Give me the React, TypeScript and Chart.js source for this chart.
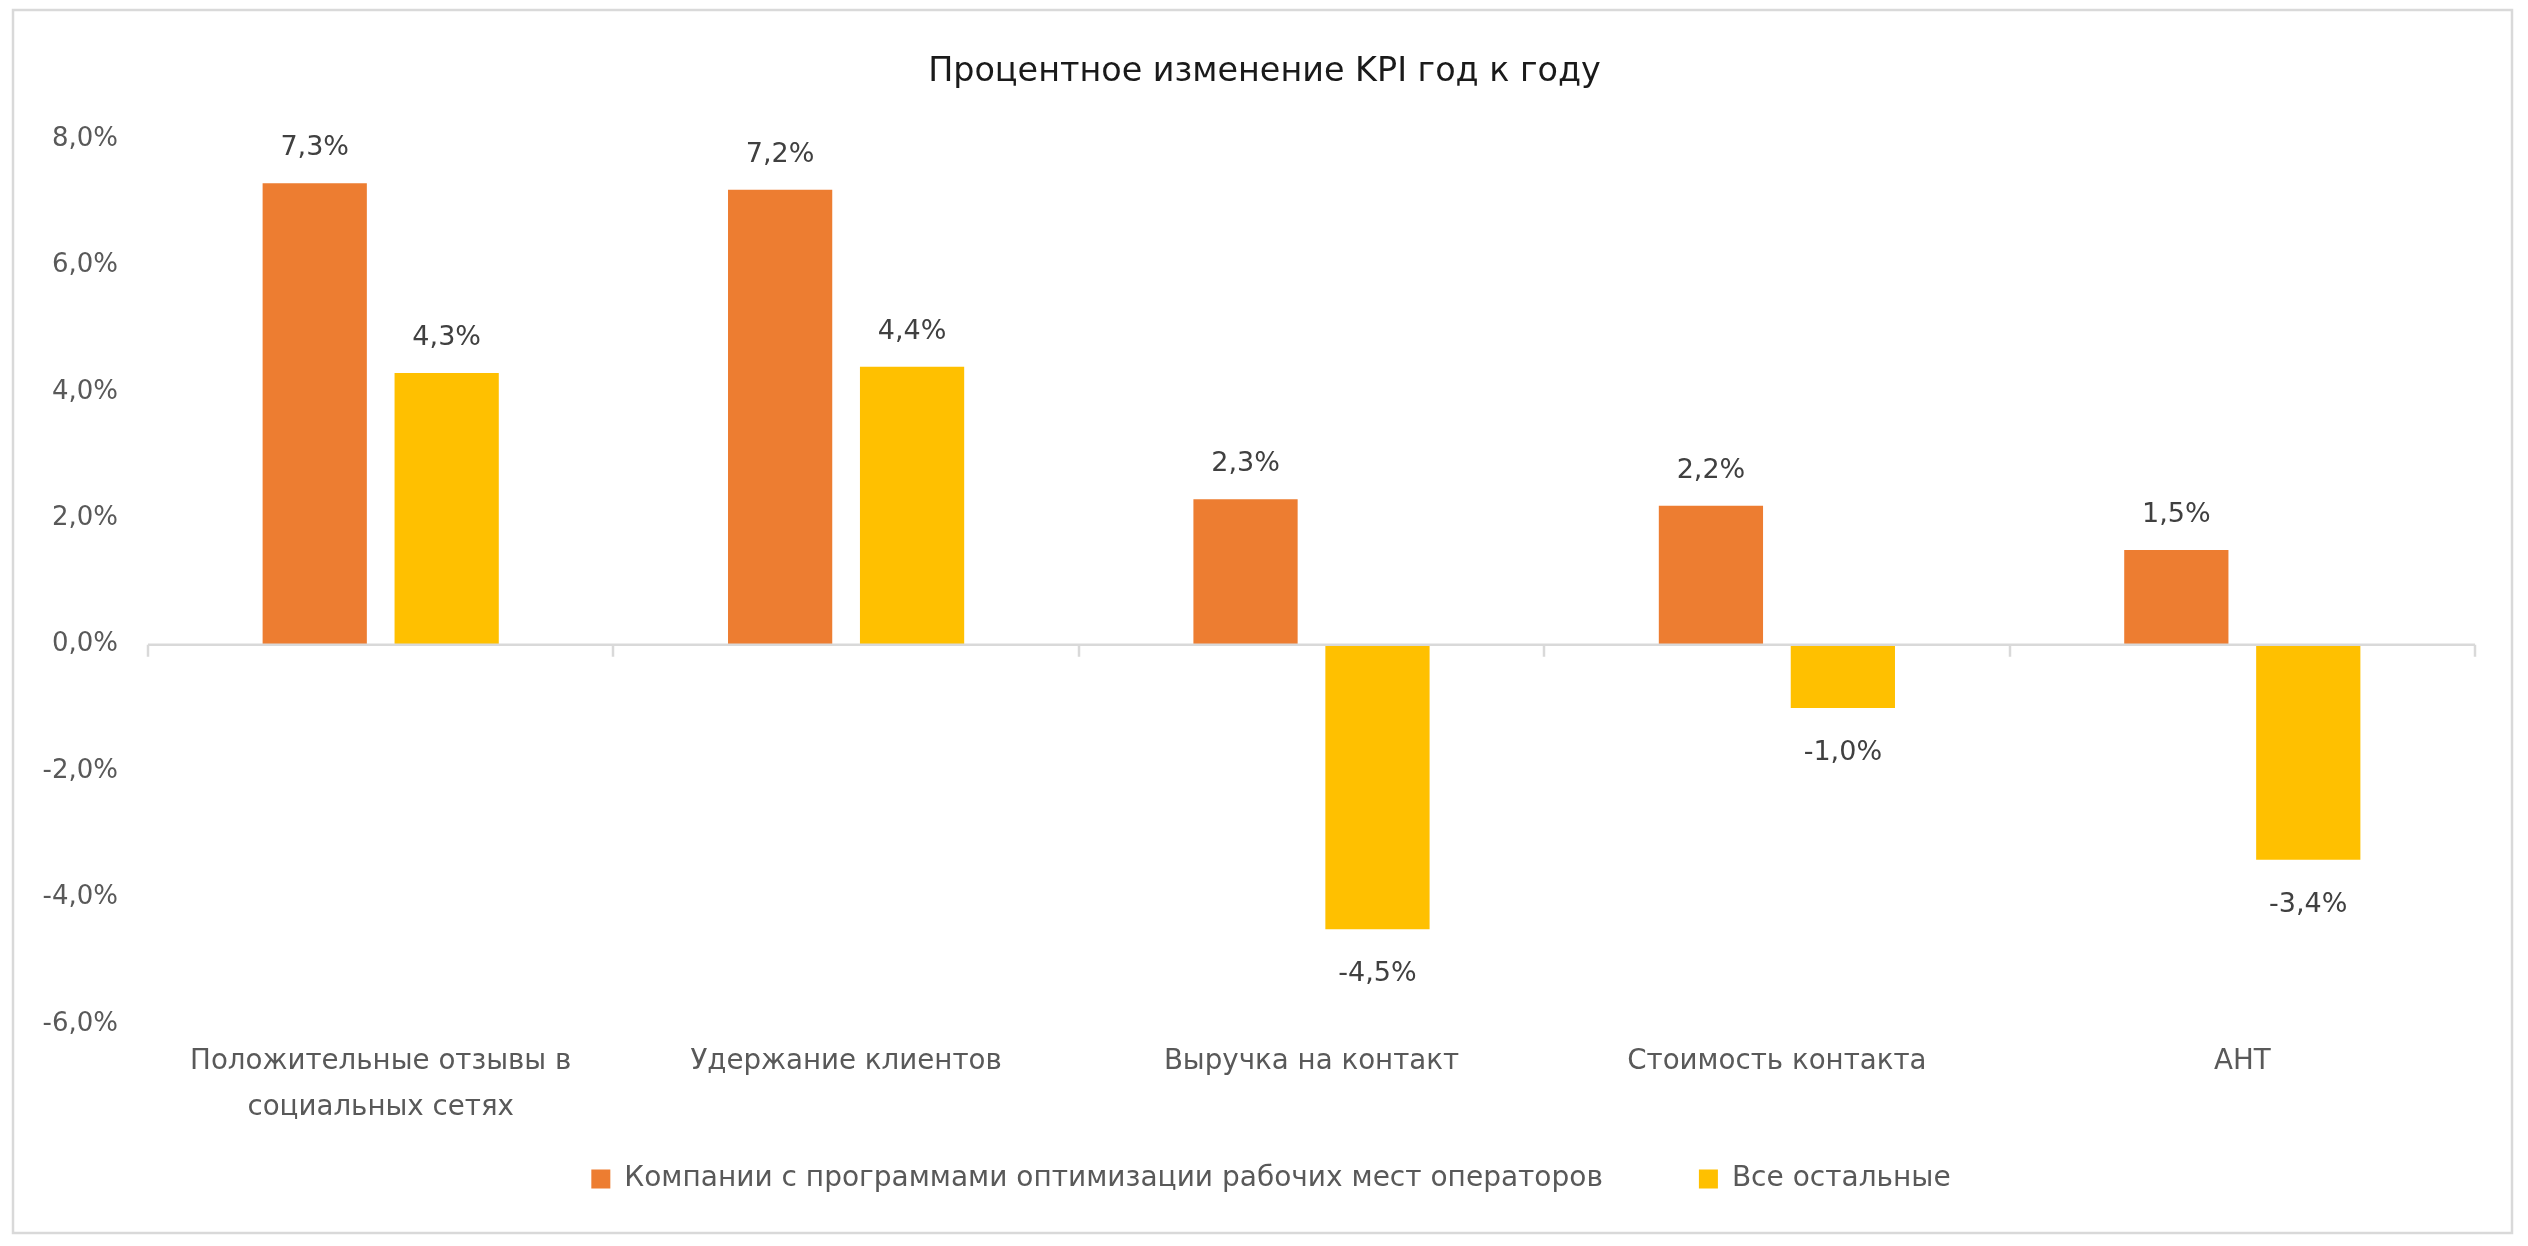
import React, { useEffect, useRef } from "react";
import { Chart, registerables } from "chart.js";

Chart.register(...registerables);

const chartTitle = "Процентное изменение KPI год к году";
const categories: (string | string[])[] = [
  ["Положительные отзывы в", "социальных сетях"],
  "Удержание клиентов",
  "Выручка на контакт",
  "Стоимость контакта",
  "AHT",
];
const seriesNames = [
  "Компании с программами оптимизации рабочих мест операторов",
  "Все остальные",
];
const withProgram = [7.3, 7.2, 2.3, 2.2, 1.5];
const allOthers = [4.3, 4.4, -4.5, -1.0, -3.4];
const yMin = -6;
const yMax = 8;
const yStep = 2;

const FONT = "'DejaVu Sans', 'Open Sans', sans-serif";
const fmt = (v: number) => v.toFixed(1).replace(".", ",") + "%";

const W = 2528;
const H = 1246;
const LEGEND_PAD = 96;
const PAD_BOTTOM = 43;
const AREA_BOTTOM = 1024;

const framePlugin = {
  id: "frame",
  beforeDraw(chart: any) {
    const ctx = chart.ctx;
    ctx.save();
    ctx.fillStyle = "#ffffff";
    ctx.fillRect(0, 0, chart.width, chart.height);
    ctx.strokeStyle = "#d9d9d9";
    ctx.lineWidth = 2.5;
    ctx.strokeRect(13, 10, 2499, 1223);
    ctx.restore();
  },
};

const layoutTweak = {
  id: "layoutTweak",
  afterLayout(chart: any) {
    const lg = chart.legend;
    if (lg && lg.lineWidths) {
      const lw = lg.lineWidths[0];
      const start = (lg.left + LEGEND_PAD + lg.right - lw) / 2;
      const desired = 1271 - (lw - LEGEND_PAD) / 2;
      const dx = desired - start;
      lg.left += dx;
      lg.right += dx;
    }
    const tb = chart.titleBlock;
    if (tb) {
      tb.left += 20;
      tb.right += 20;
    }
    const xs = chart.scales.x;
    if (xs) {
      // let the two-line category labels extend past the shortened axis box
      xs.bottom = xs.top + 130;
    }
  },
};

const zeroLinePlugin = {
  id: "zeroLine",
  afterDatasetsDraw(chart: any) {
    const ctx = chart.ctx;
    const xs = chart.scales.x;
    const ys = chart.scales.y;
    const y0 = ys.getPixelForValue(0);
    ctx.save();
    ctx.strokeStyle = "#d9d9d9";
    ctx.lineWidth = 2.5;
    ctx.beginPath();
    ctx.moveTo(chart.chartArea.left, y0);
    ctx.lineTo(chart.chartArea.right, y0);
    for (let i = 0; i <= categories.length; i++) {
      const x = Math.round(xs.getPixelForValue(i - 0.5));
      ctx.moveTo(x, y0);
      ctx.lineTo(x, y0 + 12);
    }
    ctx.stroke();
    ctx.restore();
  },
};

const dataLabelPlugin = {
  id: "dataLabels",
  afterDatasetsDraw(chart: any) {
    const ctx = chart.ctx;
    ctx.save();
    ctx.font = `27px ${FONT}`;
    ctx.fillStyle = "#404040";
    ctx.textAlign = "center";
    ctx.textBaseline = "middle";
    chart.data.datasets.forEach((ds: any, di: number) => {
      const meta = chart.getDatasetMeta(di);
      meta.data.forEach((el: any, i: number) => {
        const v = ds.data[i] as number;
        const y = v >= 0 ? el.y - 35 : el.y + 45;
        ctx.fillText(fmt(v), el.x, y);
      });
    });
    ctx.restore();
  },
};

export default function App() {
  const ref = useRef<HTMLCanvasElement | null>(null);

  useEffect(() => {
    if (!ref.current) return;
    const chart = new Chart(ref.current, {
      type: "bar",
      data: {
        labels: categories as any,
        datasets: [
          {
            label: seriesNames[0],
            data: withProgram,
            backgroundColor: "#ED7D31",
            borderWidth: 0,
            categoryPercentage: 0.567,
            barPercentage: 0.79,
          },
          {
            label: seriesNames[1],
            data: allOthers,
            backgroundColor: "#FFC000",
            borderWidth: 0,
            categoryPercentage: 0.567,
            barPercentage: 0.79,
          },
        ],
      },
      options: {
        responsive: false,
        animation: false,
        events: [],
        layout: { padding: { top: 10, left: 14, right: 53, bottom: PAD_BOTTOM } },
        plugins: {
          title: {
            display: true,
            text: chartTitle,
            color: "#1a1a1a",
            font: { family: FONT, size: 33.4, weight: "normal" as any, lineHeight: 1.2 },
            padding: { top: 42, bottom: 47 },
          },
          legend: {
            position: "bottom",
            labels: {
              boxWidth: 19,
              boxHeight: 19,
              padding: LEGEND_PAD,
              color: "#595959",
              font: { family: FONT, size: 28 },
            },
          },
          tooltip: { enabled: false },
        },
        scales: {
          x: {
            grid: { display: false, drawTicks: false },
            border: { display: false },
            ticks: {
              color: "#595959",
              font: { family: FONT, size: 27.7, lineHeight: 46 / 27.7 },
              padding: 15,
              maxRotation: 0,
              autoSkip: false,
            },
            afterFit(scale: any) {
              const lg = scale.chart.legend;
              const lh = lg ? lg.height : 0;
              scale.height = Math.max(H - PAD_BOTTOM - lh - AREA_BOTTOM, 0);
            },
          },
          y: {
            min: yMin,
            max: yMax,
            grid: { display: false, drawTicks: false },
            border: { display: false },
            ticks: {
              stepSize: yStep,
              color: "#595959",
              font: { family: FONT, size: 26 },
              padding: 30,
              callback: (v: any) => fmt(Number(v)),
            },
            afterFit(scale: any) {
              scale.width = 134;
            },
          },
        },
      },
      plugins: [framePlugin, layoutTweak, zeroLinePlugin, dataLabelPlugin],
    });
    return () => chart.destroy();
  }, []);

  return (
    <div style={{ position: "absolute", left: 0, top: 0, width: W, height: H, background: "#fff" }}>
      <canvas ref={ref} width={W} height={H} style={{ display: "block", width: W, height: H }} />
    </div>
  );
}
